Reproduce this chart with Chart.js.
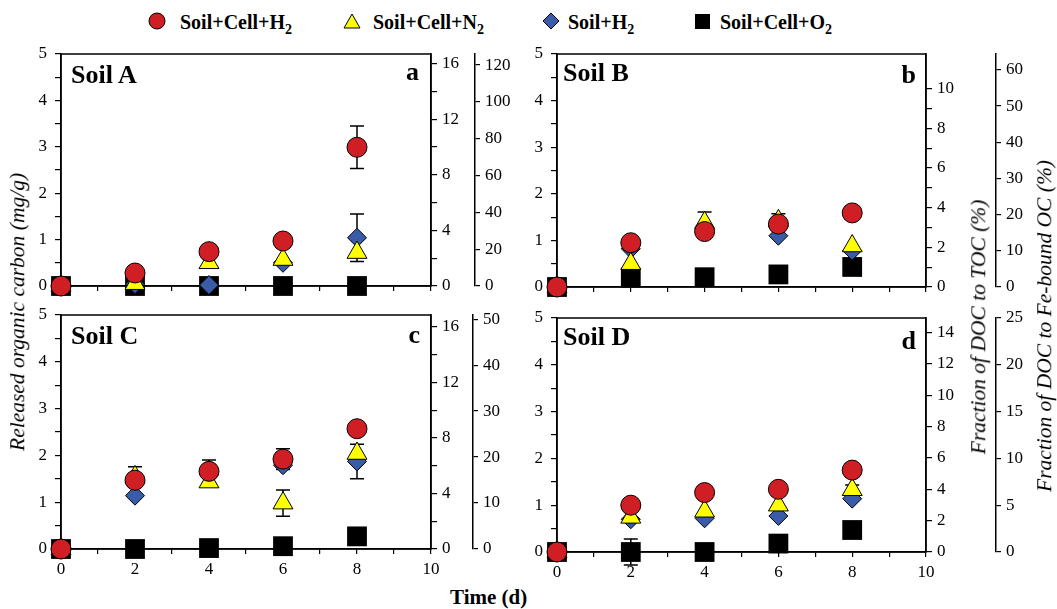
<!DOCTYPE html>
<html>
<head>
<meta charset="utf-8">
<script src="https://cdn.jsdelivr.net/npm/chart.js@4.4.1/dist/chart.umd.min.js"></script>
<style>
html,body{margin:0;padding:0;background:#fff}
body{width:1057px;height:609px;position:relative;overflow:hidden;font-family:"Liberation Serif","Times New Roman",serif;color:#000}
canvas{position:absolute}
.lbl{position:absolute;white-space:nowrap;line-height:1;font-weight:bold;font-size:26px}
.vt{position:absolute;white-space:nowrap;font-style:italic;font-size:21.5px;line-height:1;transform:translate(-50%,-50%) rotate(-90deg)}
.leg{position:absolute;top:12px;white-space:nowrap;font-weight:bold;font-size:20px;line-height:1}
.leg span{font-size:14px;position:relative;top:5px}
</style>
</head>
<body>

<svg style="position:absolute;left:0;top:0" width="1057" height="40">
  <circle cx="157" cy="21" r="8" fill="#cf1f25" stroke="#000" stroke-width="1"/>
  <polygon points="352,14 360,28 344,28" fill="#ffff00" stroke="#000" stroke-width="1"/>
  <polygon points="551,13 559,21 551,29 543,21" fill="#3a5ba8" stroke="#000" stroke-width="1"/>
  <rect x="695" y="14" width="15" height="15" fill="#000"/>
</svg>
<div class="leg" style="left:180px">Soil+Cell+H<span>2</span></div>
<div class="leg" style="left:373px">Soil+Cell+N<span>2</span></div>
<div class="leg" style="left:568px">Soil+H<span>2</span></div>
<div class="leg" style="left:720px">Soil+Cell+O<span>2</span></div>

<canvas id="chartA" width="520" height="262" style="left:0;top:40px"></canvas>
<canvas id="chartB" width="516" height="262" style="left:520px;top:40px"></canvas>
<canvas id="chartC" width="520" height="285" style="left:0;top:300px"></canvas>
<canvas id="chartD" width="516" height="285" style="left:520px;top:300px"></canvas>

<div class="lbl" style="left:71px;top:62px">Soil A</div>
<div class="lbl" style="right:638px;top:59px">a</div>
<div class="lbl" style="left:563px;top:60px">Soil B</div>
<div class="lbl" style="right:141px;top:62px">b</div>
<div class="lbl" style="left:71px;top:323px">Soil C</div>
<div class="lbl" style="right:637px;top:322px">c</div>
<div class="lbl" style="left:563px;top:324px">Soil D</div>
<div class="lbl" style="right:141px;top:328px">d</div>

<div class="vt" style="left:18px;top:312px">Released organic carbon (mg/g)</div>
<div class="vt" style="left:979px;top:327px">Fraction of DOC to TOC (%)</div>
<div class="vt" style="left:1045px;top:326px">Fraction of DOC to Fe-bound OC (%)</div>
<div style="position:absolute;left:450px;top:587px;font-weight:bold;font-size:21px;line-height:1;white-space:nowrap">Time (d)</div>

<script>
// sampling days
const times = [0, 2, 4, 6, 8];

// Soil A, released OC (mg/g)
const soilA_cellH2 = [0, 0.28, 0.74, 0.97, 2.99];
const soilA_cellN2 = [0, 0.05, 0.50, 0.57, 0.72];
const soilA_H2 = [0, 0.04, 0.02, 0.50, 1.04];
const soilA_cellO2 = [0, 0, 0, 0, 0];
const soilA_errCellH2 = [0, 0, 0, 0, 0.46];
const soilA_errCellN2 = [0, 0, 0, 0, 0];
const soilA_errH2 = [0, 0, 0, 0, 0.51];
const soilA_errCellO2 = [0, 0, 0, 0, 0];

// Soil B
const soilB_cellH2 = [0, 0.95, 1.19, 1.35, 1.59];
const soilB_cellN2 = [0, 0.50, 1.38, 1.42, 0.88];
const soilB_H2 = [0, 0.82, 1.20, 1.10, 0.78];
const soilB_cellO2 = [0, 0.20, 0.21, 0.27, 0.43];
const soilB_errCellH2 = [0, 0, 0, 0, 0];
const soilB_errCellN2 = [0, 0, 0.23, 0.15, 0];
const soilB_errH2 = [0, 0, 0, 0, 0];
const soilB_errCellO2 = [0, 0, 0, 0, 0];

// Soil C
const soilC_cellH2 = [0, 1.47, 1.66, 1.92, 2.57];
const soilC_cellN2 = [0, 1.54, 1.43, 0.98, 2.04];
const soilC_H2 = [0, 1.14, 1.60, 1.79, 1.87];
const soilC_cellO2 = [0, 0, 0.02, 0.06, 0.27];
const soilC_errCellH2 = [0, 0, 0.24, 0.22, 0];
const soilC_errCellN2 = [0, 0.22, 0, 0.28, 0];
const soilC_errH2 = [0, 0, 0, 0, 0.37];
const soilC_errCellO2 = [0, 0, 0, 0, 0];

// Soil D
const soilD_cellH2 = [0, 1.00, 1.27, 1.34, 1.75];
const soilD_cellN2 = [0, 0.74, 0.87, 1.00, 1.33];
const soilD_H2 = [0, 0.70, 0.72, 0.77, 1.14];
const soilD_cellO2 = [0, 0, 0, 0.18, 0.47];
const soilD_errCellH2 = [0, 0, 0, 0, 0];
const soilD_errCellN2 = [0, 0, 0, 0, 0.10];
const soilD_errH2 = [0, 0, 0, 0, 0];
const soilD_errCellO2 = [0, 0.28, 0, 0, 0];

// axis ticks and labels
const xTicks = [0, 1, 2, 3, 4, 5, 6, 7, 8, 9, 10];
const xLabels = [0, 2, 4, 6, 8, 10];
const ocTicks = [0, 0.5, 1, 1.5, 2, 2.5, 3, 3.5, 4, 4.5, 5];
const ocLabels = [0, 1, 2, 3, 4, 5];

const tocTicksA = [0, 2, 4, 6, 8, 10, 12, 14, 16];
const tocLabelsA = [0, 4, 8, 12, 16];
const feTicksA = [0, 20, 40, 60, 80, 100, 120];

const tocTicksB = [0, 1, 2, 3, 4, 5, 6, 7, 8, 9, 10];
const tocLabelsB = [0, 2, 4, 6, 8, 10];
const feTicksB = [0, 10, 20, 30, 40, 50, 60];

const tocTicksC = [0, 2, 4, 6, 8, 10, 12, 14, 16];
const tocLabelsC = [0, 4, 8, 12, 16];
const feTicksC = [0, 10, 20, 30, 40, 50];

const tocTicksD = [0, 2, 4, 6, 8, 10, 12, 14];
const tocLabelsD = tocTicksD;
const feTicksD = [0, 5, 10, 15, 20, 25];

const FONT = {family: "'Liberation Serif', 'Times New Roman', serif", size: 17};

const markers = [
  {pointStyle: 'circle', pointRadius: 10, backgroundColor: '#cf1f25', borderColor: '#000', borderWidth: 1},
  {pointStyle: 'triangle', pointRadius: 11.5, backgroundColor: '#ffff00', borderColor: '#000', borderWidth: 1},
  {pointStyle: 'rectRot', pointRadius: 9.5, backgroundColor: '#3a5ba8', borderColor: '#000', borderWidth: 1},
  {pointStyle: 'rect', pointRadius: 14, backgroundColor: '#000', borderColor: '#000', borderWidth: 0}
];

// frame + error bars under the markers
const errorBars = {
  id: 'errorBars',
  beforeDatasetsDraw(chart) {
    const {ctx, chartArea: a, scales} = chart;
    ctx.save();
    ctx.strokeStyle = '#000';
    ctx.lineWidth = 1.5;
    ctx.strokeRect(a.left, a.top, a.right - a.left, a.bottom - a.top);
    chart.data.datasets.forEach(ds => {
      ds.errors.forEach((e, i) => {
        if (!e) return;
        const px = scales.x.getPixelForValue(ds.data[i].x);
        const top = scales.y.getPixelForValue(ds.data[i].y + e);
        const bot = scales.y.getPixelForValue(ds.data[i].y - e);
        ctx.beginPath();
        ctx.moveTo(px, top); ctx.lineTo(px, bot);
        ctx.moveTo(px - 7, top); ctx.lineTo(px + 7, top);
        ctx.moveTo(px - 7, bot); ctx.lineTo(px + 7, bot);
        ctx.stroke();
      });
    });
    ctx.restore();
  }
};

function axis(opts) {
  return {
    type: 'linear',
    position: opts.position,
    weight: opts.weight || 0,
    min: 0,
    max: opts.max,
    border: {display: true, color: '#000', width: 1.5},
    grid: {display: true, drawOnChartArea: false, drawTicks: true, tickLength: opts.tickLength, color: '#000', lineWidth: 1.2},
    ticks: {
      color: '#000', font: FONT, padding: opts.padding, autoSkip: false, maxRotation: 0,
      callback: v => opts.labels.includes(v) ? String(v) : ''
    },
    afterBuildTicks: s => { s.ticks = opts.ticks.map(v => ({value: v})); },
    afterFit: s => {
      s.paddingTop = s.paddingBottom = s.paddingLeft = s.paddingRight = 0;
      if (opts.width != null) s.width = opts.width;
      if (opts.height != null) s.height = opts.height;
    }
  };
}

function makePanel(id, series, errors, p) {
  new Chart(document.getElementById(id), {
    type: 'scatter',
    data: {
      datasets: series.map((vals, k) => Object.assign({
        label: ['Soil+Cell+H2', 'Soil+Cell+N2', 'Soil+H2', 'Soil+Cell+O2'][k],
        data: times.map((t, i) => ({x: t, y: vals[i]})),
        errors: errors[k],
        showLine: false,
        clip: false,
        yAxisID: 'y'
      }, markers[k], {pointHoverRadius: markers[k].pointRadius}))
    },
    options: {
      responsive: false,
      animation: false,
      events: [],
      layout: {padding: p.padding},
      plugins: {legend: {display: false}, tooltip: {enabled: false}},
      scales: {
        x: axis({position: 'bottom', max: 10, ticks: xTicks, labels: p.showX ? xLabels : [], tickLength: 5, padding: 5, height: p.xH}),
        y: axis({position: 'left', max: 5, ticks: ocTicks, labels: ocLabels, tickLength: 6, padding: 8, width: 30}),
        toc: axis({position: 'right', weight: 0, max: p.tocMax, ticks: p.tocTicks, labels: p.tocLabels, tickLength: 6, padding: 5, width: p.tocW}),
        fe: axis({position: 'right', weight: 1, max: p.feMax, ticks: p.feTicks, labels: p.feTicks, tickLength: 5, padding: 5, width: 40})
      }
    },
    plugins: [errorBars]
  });
}

makePanel('chartA',
  [soilA_cellH2, soilA_cellN2, soilA_H2, soilA_cellO2],
  [soilA_errCellH2, soilA_errCellN2, soilA_errH2, soilA_errCellO2],
  {padding: {left: 31, top: 11, right: 5, bottom: 2}, xH: 14, showX: false,
   tocMax: 16.7, tocTicks: tocTicksA, tocLabels: tocLabelsA, tocW: 44, feMax: 126, feTicks: feTicksA});

makePanel('chartB',
  [soilB_cellH2, soilB_cellN2, soilB_H2, soilB_cellO2],
  [soilB_errCellH2, soilB_errCellN2, soilB_errH2, soilB_errCellO2],
  {padding: {left: 7, top: 12, right: 0, bottom: 2}, xH: 13, showX: false,
   tocMax: 11.75, tocTicks: tocTicksB, tocLabels: tocLabelsB, tocW: 70, feMax: 64.4, feTicks: feTicksB});

makePanel('chartC',
  [soilC_cellH2, soilC_cellN2, soilC_H2, soilC_cellO2],
  [soilC_errCellH2, soilC_errCellN2, soilC_errH2, soilC_errCellO2],
  {padding: {left: 31, top: 15, right: 7, bottom: 5}, xH: 31, showX: true,
   tocMax: 16.86, tocTicks: tocTicksC, tocLabels: tocLabelsC, tocW: 42, feMax: 50.9, feTicks: feTicksC});

makePanel('chartD',
  [soilD_cellH2, soilD_cellN2, soilD_H2, soilD_cellO2],
  [soilD_errCellH2, soilD_errCellN2, soilD_errH2, soilD_errCellO2],
  {padding: {left: 7, top: 18, right: 0, bottom: 5}, xH: 28, showX: true,
   tocMax: 14.92, tocTicks: tocTicksD, tocLabels: tocLabelsD, tocW: 70, feMax: 25, feTicks: feTicksD});
</script>
</body>
</html>
